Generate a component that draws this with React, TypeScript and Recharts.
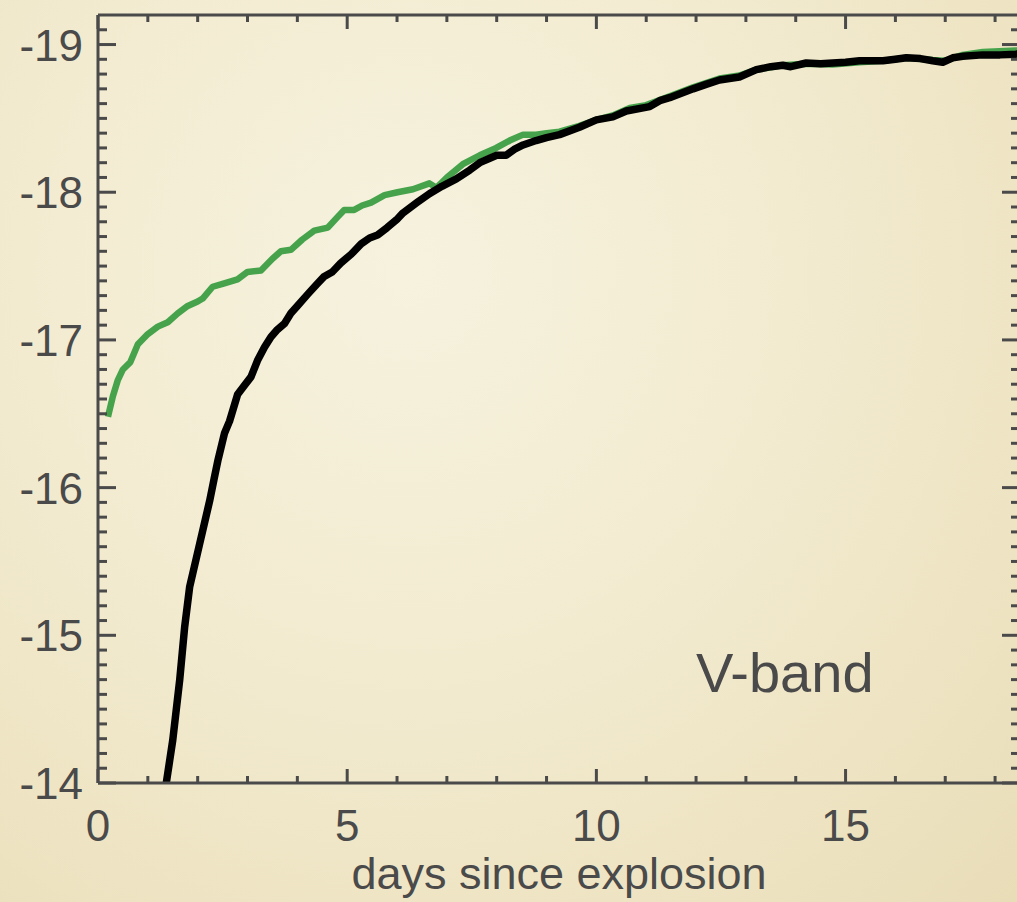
import { LineChart, Line, XAxis, YAxis, ReferenceDot } from 'recharts'

// model light curve (green) and observed/simulated curve (black)
const greenDays = [
  0.2, 0.3, 0.4, 0.5, 0.65, 0.8, 1.0, 1.2, 1.4, 1.6, 1.8, 2.0, 2.1, 2.3, 2.5, 2.8, 3.0, 3.27, 3.5, 3.67,
  3.87, 4.1, 4.34, 4.61, 4.8, 4.94, 5.14, 5.3, 5.48, 5.75, 6.01, 6.32, 6.65, 6.79, 7.0, 7.32, 7.66, 7.99,
  8.26, 8.53, 8.79, 9.0, 9.26, 9.66, 10.0, 10.33, 10.67, 11.0, 11.47, 11.94, 12.47, 12.87, 13.21, 13.74,
  14.21, 14.74, 15.28, 15.75, 16.22, 16.75, 17.0, 17.35, 17.75, 18.42, 18.5,
]
const greenMag = [
  -16.48, -16.62, -16.73, -16.8, -16.85, -16.97, -17.04, -17.09, -17.12, -17.18, -17.23, -17.26, -17.28,
  -17.36, -17.38, -17.41, -17.46, -17.47, -17.55, -17.6, -17.61, -17.68, -17.74, -17.76, -17.83, -17.88,
  -17.88, -17.91, -17.93, -17.98, -18.0, -18.02, -18.06, -18.03, -18.1, -18.19, -18.25, -18.3, -18.35,
  -18.39, -18.39, -18.4, -18.41, -18.45, -18.49, -18.52, -18.57, -18.59, -18.65, -18.71, -18.77, -18.79,
  -18.83, -18.86, -18.87, -18.865, -18.88, -18.89, -18.91, -18.895, -18.89, -18.93, -18.95, -18.96, -18.96,
]

const blackDays = [
  1.37, 1.5, 1.64, 1.74, 1.84, 2.04, 2.24, 2.33, 2.41, 2.54, 2.64, 2.8, 2.91, 3.07, 3.2, 3.34, 3.47, 3.6,
  3.74, 3.87, 4.0, 4.21, 4.4, 4.54, 4.7, 4.87, 5.08, 5.28, 5.45, 5.61, 5.8, 6.01, 6.12, 6.4, 6.65, 6.9,
  7.19, 7.46, 7.66, 7.86, 8.0, 8.19, 8.35, 8.53, 8.79, 9.0, 9.26, 9.66, 10.0, 10.33, 10.6, 11.07, 11.27,
  11.47, 11.94, 12.2, 12.47, 12.87, 13.21, 13.5, 13.74, 13.9, 14.21, 14.5, 14.74, 15.0, 15.28, 15.75, 16.0,
  16.22, 16.5, 16.75, 16.95, 17.15, 17.35, 17.75, 18.1, 18.42, 18.5,
]
const blackMag = [
  -14.0, -14.29, -14.7, -15.06, -15.33, -15.62, -15.91, -16.06, -16.19, -16.37, -16.45, -16.63, -16.68,
  -16.75, -16.86, -16.95, -17.02, -17.07, -17.11, -17.18, -17.23, -17.31, -17.38, -17.43, -17.46, -17.52,
  -17.58, -17.65, -17.69, -17.71, -17.76, -17.82, -17.86, -17.93, -17.99, -18.04, -18.09, -18.15, -18.2,
  -18.23, -18.25, -18.25, -18.29, -18.32, -18.35, -18.37, -18.39, -18.44, -18.49, -18.51, -18.55, -18.58,
  -18.62, -18.64, -18.7, -18.73, -18.76, -18.78, -18.83, -18.85, -18.86, -18.85, -18.875, -18.87, -18.875,
  -18.88, -18.89, -18.89, -18.9, -18.91, -18.905, -18.89, -18.88, -18.91, -18.92, -18.93, -18.93, -18.935,
  -18.94,
]

const xTicks = [0, 1, 2, 3, 4, 5, 6, 7, 8, 9, 10, 11, 12, 13, 14, 15, 16, 17, 18]
const yTicks = Array.from({ length: 52 }, (_, i) => Math.round((-19.1 + i * 0.1) * 10) / 10)

const greenData = greenDays.map((day, i) => ({ day, mag: greenMag[i] }))
const blackData = blackDays.map((day, i) => ({ day, mag: blackMag[i] }))

const AXIS = '#4a4a4a'
const FONT = '"Liberation Sans", Arial, Helvetica, sans-serif'
const isMajor = (v: number) => Math.abs(v - Math.round(v)) < 1e-6
const isMajorX = (v: number) => v % 5 === 0

function LeftTick({ x, y, payload }: any) {
  const v = payload.value
  const major = isMajor(v)
  return (
    <g>
      <line x1={x} x2={x + (major ? 18 : 9)} y1={y} y2={y} stroke={AXIS} strokeWidth={3} />
      {major && (
        <text x={x - 15} y={y} dy={16} textAnchor="end" fontSize={44} fill={AXIS} fontFamily={FONT}>
          {Math.round(v)}
        </text>
      )}
    </g>
  )
}

function RightTick({ x, y, payload }: any) {
  const major = isMajor(payload.value)
  return <line x1={x} x2={x - (major ? 18 : 9)} y1={y} y2={y} stroke={AXIS} strokeWidth={3} />
}

function BottomTick({ x, y, payload }: any) {
  const v = payload.value
  const major = isMajorX(v)
  return (
    <g>
      <line x1={x} x2={x} y1={y} y2={y - (major ? 14 : 7)} stroke={AXIS} strokeWidth={3} />
      {major && (
        <text x={x} y={y + 58} textAnchor="middle" fontSize={44} fill={AXIS} fontFamily={FONT}>
          {v}
        </text>
      )}
    </g>
  )
}

function TopTick({ x, y, payload }: any) {
  const major = isMajorX(payload.value)
  return <line x1={x} x2={x} y1={y} y2={y + (major ? 14 : 7)} stroke={AXIS} strokeWidth={3} />
}

export default function App() {
  return (
    <div
      style={{
        position: 'absolute',
        left: 0,
        top: 0,
        width: 1017,
        height: 902,
        overflow: 'hidden',
        background:
          'radial-gradient(ellipse at 40% 30%, #f6f2de 0%, #f3ecd2 40%, #eee4c3 75%, #e9ddb8 100%)',
      }}
    >
      <LineChart width={1030} height={902} margin={{ top: 14, right: 9, left: 0, bottom: 19 }}>
        <XAxis
          xAxisId="b"
          dataKey="day"
          type="number"
          domain={[0, 18.5]}
          allowDataOverflow
          ticks={xTicks}
          interval={0}
          height={100}
          tickSize={0}
          tickMargin={0}
          tickLine={false}
          tick={<BottomTick />}
          axisLine={{ stroke: AXIS, strokeWidth: 3 }}
          label={{
            content: ({ viewBox }: any) => (
              <text
                x={viewBox.x + viewBox.width / 2}
                y={viewBox.y + 106}
                textAnchor="middle"
                fontSize={45}
                fill={AXIS}
                fontFamily={FONT}
              >
                days since explosion
              </text>
            ),
          }}
        />
        <XAxis
          xAxisId="t"
          orientation="top"
          dataKey="day"
          type="number"
          domain={[0, 18.5]}
          allowDataOverflow
          ticks={xTicks}
          interval={0}
          height={1}
          tickSize={0}
          tickMargin={0}
          tickLine={false}
          tick={<TopTick />}
          axisLine={{ stroke: AXIS, strokeWidth: 3 }}
        />
        <YAxis
          yAxisId="l"
          type="number"
          reversed
          domain={[-19.2, -14]}
          allowDataOverflow
          ticks={yTicks}
          interval={0}
          width={98}
          tickSize={0}
          tickMargin={0}
          tickLine={false}
          tick={<LeftTick />}
          axisLine={{ stroke: AXIS, strokeWidth: 3 }}
        />
        <YAxis
          yAxisId="r"
          orientation="right"
          type="number"
          reversed
          domain={[-19.2, -14]}
          allowDataOverflow
          ticks={yTicks}
          interval={0}
          width={1}
          tickSize={0}
          tickMargin={0}
          tickLine={false}
          tick={<RightTick />}
          axisLine={{ stroke: AXIS, strokeWidth: 3 }}
        />
        <Line
          xAxisId="b"
          yAxisId="l"
          data={greenData}
          dataKey="mag"
          type="linear"
          stroke="#46a34c"
          strokeWidth={6.5}
          strokeLinejoin="round"
          dot={false}
          isAnimationActive={false}
        />
        <Line
          xAxisId="b"
          yAxisId="l"
          data={blackData}
          dataKey="mag"
          type="linear"
          stroke="#000000"
          strokeWidth={7.5}
          strokeLinejoin="round"
          dot={false}
          isAnimationActive={false}
        />
        <ReferenceDot
          xAxisId="b"
          yAxisId="l"
          x={12}
          y={-14.75}
          r={0}
          fill="none"
          stroke="none"
          label={{
            content: ({ viewBox }: any) => (
              <text
                x={viewBox.x}
                y={viewBox.y + 20}
                textAnchor="start"
                fontSize={56}
                fill={AXIS}
                fontFamily={FONT}
              >
                V-band
              </text>
            ),
          }}
        />
      </LineChart>
    </div>
  )
}
